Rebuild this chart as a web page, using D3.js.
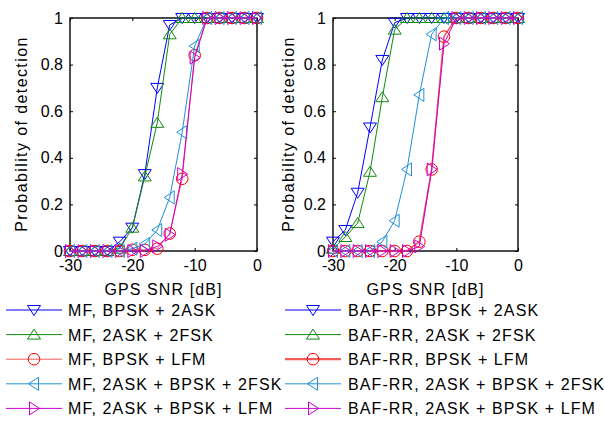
<!DOCTYPE html>
<html>
<head>
<meta charset="utf-8">
<script src="https://cdn.jsdelivr.net/npm/d3@7"></script>
<style>
  body { margin: 0; background: #fff; }
  text { font-family: Arial, "Liberation Sans", sans-serif; }
</style>
</head>
<body>
<script>
// GPS SNR grid, 2 dB steps
var snr = [-30, -28, -26, -24, -22, -20, -18, -16, -14, -12, -10, -8, -6, -4, -2, 0];

// left panel: MF
var mfBpsk2ask     = [0, 0, 0, 0, 0.04, 0.10, 0.33, 0.70, 0.97, 1, 1, 1, 1, 1, 1, 1];
var mf2ask2fsk     = [0, 0, 0, 0, 0.01, 0.10, 0.32, 0.55, 0.93, 1, 1, 1, 1, 1, 1, 1];
var mfBpskLfm      = [0, 0, 0, 0, 0, 0.005, 0.005, 0.01, 0.075, 0.31, 0.84, 1, 1, 1, 1, 1];
var mf2askBpsk2fsk = [0, 0, 0, 0, 0, 0.01, 0.03, 0.09, 0.23, 0.51, 0.88, 1, 1, 1, 1, 1];
var mf2askBpskLfm  = [0, 0, 0, 0, 0, 0, 0, 0.02, 0.07, 0.33, 0.83, 1, 1, 1, 1, 1];

// right panel: BAF-RR
var bafBpsk2ask     = [0.04, 0.09, 0.25, 0.53, 0.82, 0.98, 1, 1, 1, 1, 1, 1, 1, 1, 1, 1];
var baf2ask2fsk     = [0.01, 0.06, 0.12, 0.34, 0.66, 0.95, 1, 1, 1, 1, 1, 1, 1, 1, 1, 1];
var bafBpskLfm      = [0, 0, 0, 0, 0, 0, 0, 0.04, 0.35, 0.92, 1, 1, 1, 1, 1, 1];
var baf2askBpsk2fsk = [0, 0, 0, 0, 0.04, 0.13, 0.35, 0.67, 0.93, 1, 1, 1, 1, 1, 1, 1];
var baf2askBpskLfm  = [0, 0, 0, 0, 0, 0, 0, 0.02, 0.35, 0.89, 1, 1, 1, 1, 1, 1];

var mfNames  = ["MF, BPSK + 2ASK", "MF, 2ASK + 2FSK", "MF, BPSK + LFM", "MF, 2ASK + BPSK + 2FSK", "MF, 2ASK + BPSK + LFM"];
var bafNames = ["BAF-RR, BPSK + 2ASK", "BAF-RR, 2ASK + 2FSK", "BAF-RR, BPSK + LFM", "BAF-RR, 2ASK + BPSK + 2FSK", "BAF-RR, 2ASK + BPSK + LFM"];

var xTicks = [-30, -20, -10, 0];
var yTicks = [0, 0.2, 0.4, 0.6, 0.8, 1];
var xLabel = "GPS SNR [dB]";
var yLabel = "Probability of detection";

// styles per series (same order as names)
var colors  = ["#0000ff", "#108a10", "#ff0000", "#1e90d8", "#cc00cc"];
var lineCol = ["#0000ff", "#108a10", "#f45c5c", "#1e90d8", "#cc00cc"];
var shapes  = ["down", "up", "circle", "left", "right"];

var w = 604, h = 421;
var svg = d3.select("body").append("svg").attr("width", w).attr("height", h);
svg.append("rect").attr("width", w).attr("height", h).attr("fill", "#fff");

var yTop = 18, yBot = 251;
var panels = [
  {x0: 70,  x1: 257, ylab: 21,  series: [mfBpsk2ask, mf2ask2fsk, mfBpskLfm, mf2askBpsk2fsk, mf2askBpskLfm], redW: 1},
  {x0: 333, x1: 518, ylab: 288, series: [bafBpsk2ask, baf2ask2fsk, bafBpskLfm, baf2askBpsk2fsk, baf2askBpskLfm], redW: 1.6}
];

function markerPath(shape) {
  var a = 6.5, b = 5.5;
  if (shape === "down")  return "M" + (-a) + "," + (-4.5) + "L" + a + "," + (-4.5) + "L0," + b + "Z";
  if (shape === "up")    return "M" + (-a) + "," + 4.5 + "L" + a + "," + 4.5 + "L0," + (-b) + "Z";
  if (shape === "left")  return "M" + 4.5 + "," + (-a) + "L" + 4.5 + "," + a + "L" + (-b) + ",0Z";
  if (shape === "right") return "M" + (-4.5) + "," + (-a) + "L" + (-4.5) + "," + a + "L" + b + ",0Z";
  return d3.symbol().type(d3.symbolCircle).size(Math.PI * 5.8 * 5.8)();
}

panels.forEach(function (p) {
  var x = d3.scaleLinear().domain([-30, 0]).range([p.x0, p.x1]);
  var y = d3.scaleLinear().domain([0, 1]).range([yBot, yTop]);
  var g = svg.append("g");

  // axes with inward ticks
  var ax = g.append("g").attr("transform", "translate(0," + yBot + ")")
    .call(d3.axisBottom(x).tickValues(xTicks).tickSizeInner(-3).tickSizeOuter(0).tickPadding(10).tickFormat(function (d) { return String(d); }));
  var ay = g.append("g").attr("transform", "translate(" + p.x0 + ",0)")
    .call(d3.axisLeft(y).tickValues(yTicks).tickSizeInner(-3).tickSizeOuter(0).tickPadding(7).tickFormat(function (d) { return String(d); }));
  g.append("g").attr("transform", "translate(0," + yTop + ")")
    .call(d3.axisTop(x).tickValues(xTicks).tickSizeInner(-3).tickSizeOuter(0).tickFormat(""));
  g.append("g").attr("transform", "translate(" + p.x1 + ",0)")
    .call(d3.axisRight(y).tickValues(yTicks).tickSizeInner(-3).tickSizeOuter(0).tickFormat(""));
  g.selectAll(".domain").remove();
  g.selectAll(".tick line").attr("stroke", "#000");
  g.selectAll(".tick text").attr("font-size", 16).attr("fill", "#000")
    .attr("font-family", "Arial, 'Liberation Sans', sans-serif");
  ax.selectAll(".tick text").attr("dy", "0.62em");

  g.append("rect").attr("x", p.x0).attr("y", yTop)
    .attr("width", p.x1 - p.x0).attr("height", yBot - yTop)
    .attr("fill", "none").attr("stroke", "#000").attr("stroke-width", 1.4);

  // labels
  g.append("text").attr("x", (p.x0 + p.x1) / 2).attr("y", 295)
    .attr("text-anchor", "middle").attr("font-size", 16).attr("letter-spacing", 1.1)
    .text(xLabel);
  g.append("text").attr("transform", "translate(" + (p.ylab + 6) + "," + 134 + ") rotate(-90)")
    .attr("text-anchor", "middle").attr("font-size", 16).attr("letter-spacing", 1.4)
    .text(yLabel);

  // series
  p.series.forEach(function (vals, i) {
    var pts = snr.map(function (s, k) { return [s, vals[k]]; });
    var line = d3.line().x(function (d) { return x(d[0]); }).y(function (d) { return y(d[1]); });
    g.append("path").attr("d", line(pts)).attr("fill", "none")
      .attr("stroke", lineCol[i]).attr("stroke-width", i === 2 ? p.redW : 1);
    g.selectAll(".m" + i).data(pts).enter().append("path")
      .attr("class", "m" + i)
      .attr("transform", function (d) { return "translate(" + x(d[0]) + "," + y(d[1]) + ")"; })
      .attr("d", markerPath(shapes[i]))
      .attr("fill", "none").attr("stroke", colors[i]).attr("stroke-width", 1);
  });
});

// legends
var legends = [
  {lx0: 6,   lx1: 62,  tx: 68,  names: mfNames,  redW: 1},
  {lx0: 285, lx1: 341, tx: 348, names: bafNames, redW: 2.2}
];
legends.forEach(function (L) {
  L.names.forEach(function (name, i) {
    var cy = 310 + i * 24.6;
    var mx = (L.lx0 + L.lx1) / 2;
    svg.append("line").attr("x1", L.lx0).attr("x2", L.lx1).attr("y1", cy).attr("y2", cy)
      .attr("stroke", lineCol[i]).attr("stroke-width", i === 2 ? L.redW : 1);
    svg.append("path").attr("transform", "translate(" + mx + "," + cy + ")")
      .attr("d", markerPath(shapes[i])).attr("fill", "none")
      .attr("stroke", colors[i]).attr("stroke-width", 1);
    svg.append("text").attr("x", L.tx).attr("y", cy + 6)
      .attr("font-size", 16).attr("letter-spacing", 1.1).text(name);
  });
});
</script>
</body>
</html>
